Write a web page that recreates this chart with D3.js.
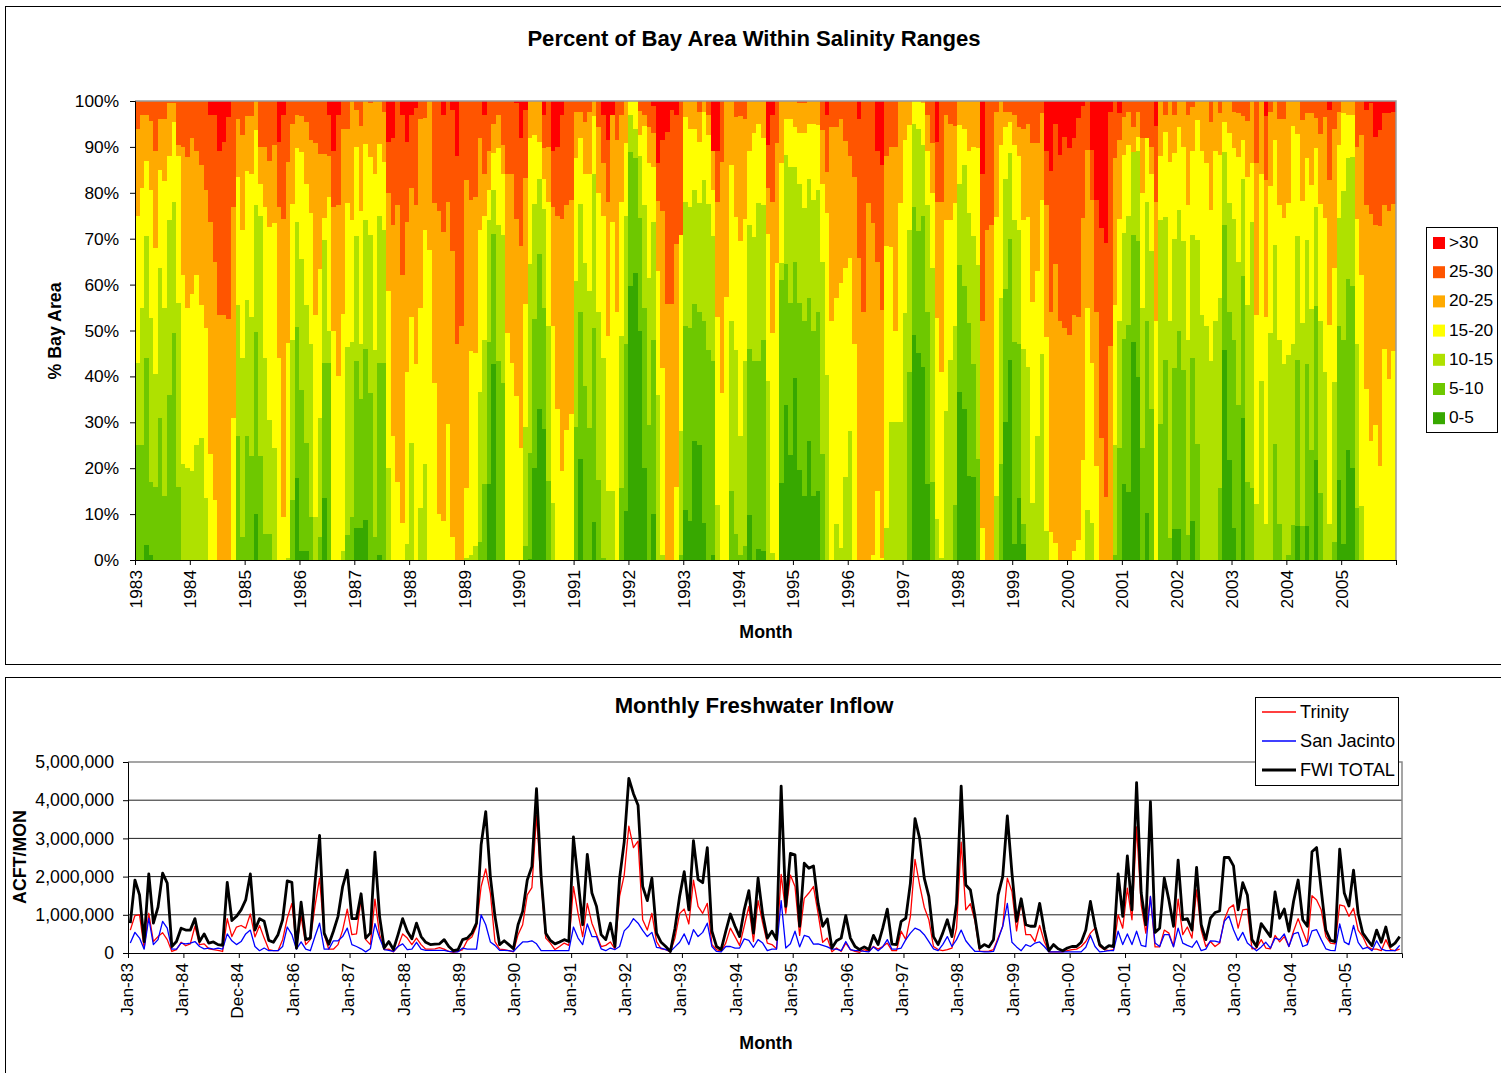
<!DOCTYPE html>
<html>
<head>
<meta charset="utf-8">
<script src="https://cdn.jsdelivr.net/npm/d3@7"></script>
<style>
html, body { margin: 0; padding: 0; background: #fff; overflow: hidden; }
svg { display: block; font-family: "Liberation Sans", Arial, sans-serif; }
.title { font-size: 22.1px; font-weight: bold; }
.axis-title { font-size: 17.8px; font-weight: bold; }
.axis text, .legend text { font-size: 17.3px; fill: #000; }
.inflow-axis text { font-size: 17.7px; }
.legend.inflow text { font-size: 18.2px; }
</style>
</head>
<body>
<script>
const chartWidth = 1501
const chartHeight = 1073

// top chart, cumulative percent of bay area at or below each salinity limit
const le5 = [
    0,0,3.3,1,0,0,0,0,0,0,0,0,
    0,0,0,0,0,0,0,0,0,0,0,0,
    0,0,10,0,0,0,0,0,0,0,0,17.8,
    2,2,0,0,0,13.6,0,0,0,0,0,0,
    7,7,8.8,0,0,1,0,0,0,0,0,0,
    0,0,0,0,0,0,0,0,0,0,0,0,
    0,0,0,0,0,16.5,42.7,0,0,0,0,0,
    0,0,0.3,20,32.8,28.6,0,0,0,0,0,0,
    0,22,0,0,8.3,0,0,0,0,0,0,10.7,
    59.8,62.5,50,20,0,10,0,0,0,0,0,0,
    11,8.5,26,25,8,0,1,0,0,0,0,0,
    0,0,9.8,0,2.3,2,0,0,0,16.8,33.7,22.8,
    39.7,19.7,14,26,14,15,0,0,0,0,0,0,
    0,0,0,0,0,0,0,0,0,0,0,0,
    0,0,49,45,42,16.6,0,0,0,0,0,0,
    36.7,33,18.3,18,0,0,0,0,0,0,30,43.6,
    3.4,13.4,3.4,0,0,0,0,0,0,0,0,0,
    0,0,0,0,0,0,0,0,0,0,0,0,
    16.5,14.9,47.6,39.8,0,10.3,0,0,0,0,0,6.7,
    6.7,0,0,8.6,0,0,0,0,0,0,45.8,21.7,
    7,0,31,0,0,0,0,0,0,0,0,0,
    0,0,7.4,0,7.4,0,21.7,0,0,0,0,17.5,
    3.4,24,20,0,0,0,0,0,0,0,0,0
]
const le10 = [
    25,25,44,17,16,31,14,36,49.5,16,0,0,
    0,0,0,0,0,0,0,0,0,0,27,5,
    27,22.6,49.7,22.6,5.7,5.7,0,0,0,0,13,50.7,
    37,25.5,9.4,0,5,43,43,0,0,0,5.4,9.4,
    43.4,35,46,36.4,5,43,43,0,0,0,0,0,
    0,0,0,0,0,0,0,0,0,0,0,0,
    0,0,0,4,16.5,47.5,71,43.4,38.6,0,0,0,
    0,3,23.4,52.4,66.6,55,17.3,0,0,0,0,0,
    29,54,38,28.8,50.5,17.5,0.5,0,0,0,15.7,47,
    88.8,87.5,74.5,55,29.4,48,0,0,0,0,0,1,
    51,50.5,55.8,54,52,45.8,43.4,0,0,0,15,5.6,
    1,3,46,43.4,43.4,48,0,0,0,61,64.5,56,
    65,56,52,57,50,54,23,0,0,0,0,0,
    0,0,0,0,0,0,0,0,0,0,0,0,
    0,41,77,71.6,75,54,17,0,0,0,0,12,
    64.3,59.6,51.6,42.6,22,0,0,0,0,21,59,70,
    47.5,47,7.8,0,0,0,0,0,0,0,0,0,
    0,0,0,0,0,0,0,0,0,0,1,24.4,
    48.2,51.3,70.7,69.4,24.3,52,32.8,0,29.6,43.6,4.9,41.8,
    50,41.5,5.4,44,25.3,0,0,0,0,15.7,72.9,54,
    48,33.7,61.8,17,15.6,0,0,0,0,25.2,7.8,0,
    1,7.6,43.6,7.4,42.6,24,55.3,14.6,0,0,4,51,
    48,61.3,59.8,11.4,0,0,0,0,0,0,0,0
]
const le15 = [
    43,55,70.5,52.7,40.5,63.6,55,74,78,56,21,20,
    19.4,25,26.6,13.4,0,0,0,0,0,0,55.6,44,
    56.7,53,77.4,75,44,30.6,24.4,0,0,0.5,48,73.7,
    65.6,55.6,47,9.4,31,69.8,50,0,0,2,46.5,47.6,
    70.5,47,74,70.7,45.8,75,72,20,0,0,0,3.4,
    25.5,0,11.4,21,0,0,0,0,0,0,0,0,
    0.5,1,3,36.6,48,74,80.6,72.9,70.8,0,0,0,
    0,29,64.5,77.5,83,76.4,51,12.5,0,0,0,0,
    60.8,77.5,64.8,58.7,84,54,44,15,15,0,48.7,75,
    97,94,88,77.4,61.4,73.7,36,1,0,0,0,28,
    78,76.8,80.6,77.7,82.8,77.5,70.5,12,0,0,52,45.8,
    27,43.4,72.9,70.3,77.7,77.4,39,1.6,0,64.7,88.3,85.7,
    85.7,82,76.6,83,78.4,80.6,65,40.4,0,7.8,2.7,18,
    28,0,0,0,0,0,0,0,7,30,30,30,
    53.8,72,95,94,90.4,77.4,63.6,9,0.5,32.4,43.6,51,
    82,86,75.6,70.5,64.3,0,0,0,14,57,83,88.6,
    74,72,46,42,12.5,27,44.8,6.3,0,0,0,0,
    0,0,0,0,11,8,0,0,0,0,25,52,
    71.2,75,88.8,89,55,78,67.4,0,74,74.8,52,70,
    76.3,69.5,48,70.7,69.8,53.4,51,43.3,52,57,88.8,77.7,
    74.3,65,83,55.6,73.7,12.3,39,7.8,49.5,68.7,48,42.6,
    44.7,47,70.5,51.6,69.8,54.6,77,52,41,7.9,38.8,74.5,
    80.4,87.5,87.9,47,11.7,0,0,0,0,0,0,0
]
const le20 = [
    75,81,87,80.6,68,85,82.6,88,95.5,88,62,55,
    58,62,55.6,50.5,23,13,0,0,0,31,83.5,72,
    84.8,84,93.7,82,76.8,72.6,73.4,44,9.4,47.3,77.5,89.7,
    88.8,82,75.6,53.4,63.5,74.5,79,50,40,53.6,77.7,74,
    90,76,90.6,87.7,84,90.6,86.7,58.7,27,17,8,41,
    53,42.6,55,72,67.6,38.6,10,8.5,29.7,5,0,0,
    15.6,45.6,45,72,75,80.6,88.6,89.7,84,49.5,43,35.7,
    24.4,55.8,92,92.5,91,83,78,51,33,19.4,28.4,31.8,
    87.5,92,84,84,96.8,80,75,48.7,73.6,54,78,90.8,
    100,100,92.6,94.5,86.4,85.7,63,41.8,0,0,16,70.7,
    96.6,94,94,91,97.7,92.7,80.6,53,36.4,57.4,86,74.8,
    69.5,74.4,89,93,95,92,71,49.5,64.7,86.6,96,96,
    94.4,93,93,95,95,94.8,82,75.6,52,57,60.3,63.7,
    65.8,47,0,0,0,1,15,0.5,68.5,68.3,50,77.7,
    91.5,94.8,100,100,99.5,89,80,52.8,41,74,74,77.7,
    94.8,94,89,90,89.7,7,0,0,74.8,90.4,94.4,95.5,
    90.4,88,74,74.8,56.3,62.9,78.5,48.5,6,3.8,0,0,
    0,2,4.3,21.7,54.9,43,20.4,0,0,0,55.6,74.3,
    88.3,90.4,88.8,92.2,80,92,84,52,88,93.3,86.8,88.6,
    94.4,90,77.4,89,95.9,89,86.4,76.3,89,88.3,95.4,93,
    89.7,87.7,91.5,83.5,86.4,53.4,84,53,81.4,91.5,77.4,74.6,
    77.7,94.6,92.8,78.2,87.5,81.6,89.7,77.5,74.6,51.3,63.6,90.4,
    97.3,97,97,74.3,62,37.3,25.9,29.5,20.4,46,39.5,45.6
]
const le25 = [
    94,97,97,95.6,89,96,96,99.5,99.5,90.5,90,87.7,
    92,89,86,80.6,73.7,65,53.4,53.4,52.6,76.8,96,92.7,
    96.8,96.8,99.9,90,90,87,90.5,76.8,74.3,86.8,95,97,
    96.8,95.5,91.5,90.8,88.4,88.4,88,77,77.4,94,94,100,
    98,94.6,100,99.5,100,100,97.7,80,73,77.4,62,73.7,
    81,77.4,96,96.4,100,77.7,76,71.4,78,67.4,47,51,
    82.8,78.5,79,92,84,89,95,97,90.4,84,84,74.3,
    68.5,83.3,100,100,100,89.7,90,77,75,74.3,77.4,78.5,
    97.7,97.7,95.5,97.7,100,94.4,86.4,78,97,91.5,97,100,
    100,100,97.8,97,94.4,93,78.2,76,55.8,55.8,68.8,70.8,
    100,100,100,97.7,100,97,89,78,86.8,100,100,96.6,
    96.8,96,100,100,100,100,81,78,90.8,100,100,100,
    100,99.5,99.6,100,100,100,93.7,84.6,94.4,94.4,96,91.3,
    88,83.5,65.8,54,77.7,73.4,65,54.5,88,90,90,100,
    100,100,100,100,100,97,90.8,78,78,97,95,94.6,
    100,100,100,100,100,52,72,73,97.7,100,97.7,97.7,
    97,94.4,94,95,90.8,90.8,97.3,77.4,54,64.5,52,50.5,
    49,53.4,52.9,74.5,89.3,78.5,54,26.6,13.7,46.6,87.5,91.5,
    96.6,97.7,94.4,97.7,92,92,90,78,100,97,100,97,
    100,100,97,98.8,100,100,100,95.5,100,97.3,100,100,
    97.7,97.3,96.8,95.6,100,86.4,100,82.7,97.7,100,96,96,
    100,100,100,95.9,97.3,97.3,96.2,92.8,96.6,82.8,94,97.7,
    100,100,100,90,92.7,77.4,75.3,72.9,72.7,77.4,76,77.5
]
const le30 = [
    100,100,100,100,100,100,100,100,100,100,100,100,
    100,100,100,100,97,97,89,91,96.5,100,100,100,
    100,100,100,100,100,100,100,91,97,100,100,100,
    100,100,100,100,100,100,97,89,97,100,100,100,
    100,100,100,100,100,100,100,91,92,100,97,91,
    97,98.5,100,100,100,100,100,97,100,98,88,100,
    100,100,100,100,97,100,100,100,100,100,100,99.5,
    92,98,100,100,100,97,100,89,90,97,100,100,
    100,100,100,100,100,100,97,91.5,97,100,100,100,
    100,100,100,100,100,99,86.4,91.5,93.3,98,97,100,
    100,100,100,100,100,100,89,89,100,100,100,100,
    100,100,100,100,100,100,90.4,97,100,100,100,100,
    100,100,100,100,100,100,100,97,100,100,100,100,
    100,100,96,100,100,100,89,86,100,100,100,100,
    100,100,100,100,100,100,100,91,100,100,100,100,
    100,100,100,100,100,84,100,100,100,100,100,100,
    100,100,100,100,100,100,100,89,84.8,95,88.3,92.2,
    89.8,92,96.4,99,100,89.3,78.5,72.3,69,97.7,100,97.3,
    100,100,100,100,100,100,100,94.6,100,100,100,100,
    100,100,100,100,100,100,100,100,100,100,100,100,
    100,100,100,100,100,100,100,96.8,100,100,100,100,
    100,100,100,100,100,100,100,100,100,98,100,100,
    100,100,100,100,100,98,99.5,92.2,93.7,97.3,97.3,97.7
]

const salinityNames = [">30", "25-30", "20-25", "15-20", "10-15", "5-10", "0-5"]
const salinityColors = ["#ff0000", "#ff5500", "#ffaa00", "#ffff00", "#afe100", "#6ec800", "#37a800"]
const yearLabels = ["1983", "1984", "1985", "1986", "1987", "1988", "1989", "1990", "1991", "1992", "1993", "1994",
    "1995", "1996", "1997", "1998", "1999", "2000", "2001", "2002", "2003", "2004", "2005"]

// bottom chart, monthly inflow in million acre-feet
const trinity = [
    0.6,0.98,1,0.13,1.04,0.3,0.43,0.53,0.35,0.04,0.09,0.28,
    0.19,0.24,0.7,0.22,0.24,0.11,0.09,0.07,0.04,0.9,0.43,0.68,
    0.72,0.65,1.02,0.42,0.72,0.39,0.09,0.06,0.06,0.35,0.91,1.3,
    0.16,0.96,0.22,0.35,1.22,1.96,0.48,0.1,0.1,0.22,0.6,1.15,
    0.48,0.5,1.43,0.35,0.22,1.41,0.48,0.09,0.1,0.03,0.17,0.5,
    0.39,0.22,0.39,0.22,0.1,0.1,0.11,0.14,0.1,0.04,0.02,0.04,
    0.09,0.33,0.42,0.7,1.74,2.2,1.57,0.3,0.1,0.09,0.06,0.03,
    0.48,0.74,1.52,1.71,3.6,1.83,0.39,0.26,0.09,0.17,0.26,0.2,
    1.74,1.04,0.43,1.3,0.78,0.48,0.17,0.2,0.29,0.1,1.48,2.04,
    3.32,2.76,2.93,0.87,0.6,1.04,0.3,0.11,0.09,0.03,0.39,1.03,
    1.15,0.76,1.91,1.22,1.04,1.3,0.22,0.09,0.04,0.26,0.65,0.43,
    0.2,0.7,1.22,0.3,1.37,0.78,0.26,0.22,0.11,2.06,1.04,2.04,
    1.74,0.46,1.43,1.57,1.74,1.04,0.28,0.39,0.03,0.13,0.04,0.26,
    0.09,0.04,0.02,0.09,0.04,0.17,0.1,0.17,0.26,0.06,0.06,0.57,
    0.35,0.96,2.45,1.78,1.2,0.87,0.17,0.09,0.06,0.09,0.13,0.65,
    2.9,1.13,1.29,0.83,0.04,0.04,0.05,0.09,0.39,0.7,1.96,1.61,
    0.58,1.35,0.48,0.48,0.3,0.72,0.3,0.03,0.03,0.03,0.03,0.06,
    0.09,0.1,0.17,0.3,0.52,0.65,0.17,0.09,0.06,0.09,1,0.65,
    1.7,0.87,3.3,1.26,0.52,1.48,0.16,0.16,0.6,0.52,0.17,1.41,
    0.48,0.68,0.39,1.65,0.6,0.17,0.3,0.17,0.26,0.87,1.17,1.26,
    0.65,1.13,1.15,0.11,0.13,0.35,0.13,0.11,0.46,0.29,0.43,0.17,
    0.57,0.9,0.57,0.26,1.5,1.39,1.13,0.43,0.26,0.24,1.26,1.23,
    0.96,1.17,0.6,0.43,0.17,0.1,0.1,0.06,0.35,0.09,0.06,0.1
]
const sanJacinto = [
    0.26,0.54,0.39,0.1,0.91,0.22,0.35,0.83,0.65,0.1,0.1,0.26,
    0.24,0.26,0.3,0.17,0.11,0.13,0.1,0.13,0.1,0.5,0.32,0.22,
    0.3,0.5,0.6,0.17,0.06,0.13,0.06,0.06,0.06,0.17,0.68,0.48,
    0.1,0.29,0.1,0.06,0.43,0.78,0.1,0.1,0.32,0.32,0.43,0.65,
    0.22,0.17,0.11,0.03,0.11,0.77,0.39,0.09,0.07,0.04,0.17,0.24,
    0.09,0.1,0.28,0.1,0.07,0.07,0.07,0.07,0.07,0.04,0.03,0.03,
    0.13,0.1,0.1,0.1,1,0.74,0.29,0.2,0.07,0.07,0.06,0.04,
    0.17,0.29,0.29,0.32,0.24,0.06,0.06,0.06,0.06,0.06,0.06,0.06,
    0.68,0.39,0.22,0.76,0.43,0.43,0.11,0.06,0.13,0.09,0.17,0.58,
    0.7,0.9,0.78,0.59,0.43,0.54,0.15,0.13,0.09,0.04,0.16,0.28,
    0.5,0.22,0.61,0.43,0.54,0.78,0.17,0.04,0.03,0.17,0.17,0.13,
    0.13,0.37,0.33,0.15,0.35,0.26,0.06,0.1,0.1,1.37,0.13,0.24,
    0.57,0.16,0.46,0.42,0.23,0.24,0.2,0.16,0.1,0.1,0.06,0.3,
    0.09,0.06,0.06,0.04,0.03,0.16,0.06,0.16,0.35,0.1,0.1,0.13,
    0.35,0.52,0.65,0.6,0.48,0.3,0.11,0.06,0.22,0.43,0.17,0.35,
    0.6,0.32,0.17,0.04,0.04,0.03,0.03,0.04,0.35,0.7,1.3,0.28,
    0.16,0.06,0.22,0.17,0.26,0.29,0.17,0.03,0.03,0.03,0.03,0.03,
    0.03,0.03,0.03,0.15,0.46,0.17,0.03,0.04,0.06,0.06,0.57,0.22,
    0.5,0.22,0.57,0.2,0.17,1.48,0.26,0.17,0.48,0.48,0.16,0.65,
    0.26,0.2,0.15,0.32,0.06,0.1,0.32,0.31,0.28,0.83,0.97,0.61,
    0.33,0.54,0.26,0.16,0.06,0.16,0.28,0.13,0.39,0.35,0.5,0.17,
    0.5,0.54,0.17,0.22,0.58,0.61,0.35,0.11,0.07,0.06,0.76,0.29,
    0.22,0.72,0.28,0.11,0.15,0.06,0.32,0.11,0.06,0.06,0.06,0.2
]
const fwiTotal = [
    0.78,1.91,1.52,0.3,2.07,0.78,1.2,2.09,1.83,0.17,0.3,0.65,
    0.6,0.6,0.9,0.3,0.5,0.26,0.29,0.22,0.2,1.85,0.85,0.96,
    1.13,1.39,2.07,0.6,0.9,0.83,0.33,0.28,0.48,0.87,1.89,1.85,
    0.13,1.33,0.35,0.39,1.83,3.08,0.52,0.23,0.57,0.96,1.74,2.17,
    0.9,0.9,1.55,0.39,0.52,2.64,0.96,0.13,0.3,0.09,0.48,0.9,
    0.57,0.37,0.78,0.43,0.28,0.22,0.23,0.24,0.35,0.17,0.06,0.09,
    0.35,0.39,0.52,0.78,2.83,3.7,2,0.96,0.22,0.32,0.22,0.11,
    0.74,1.09,1.91,2.26,4.3,2,0.52,0.33,0.24,0.29,0.35,0.3,
    3.04,1.91,0.74,2.58,1.57,1.22,0.48,0.35,0.78,0.17,1.96,2.91,
    4.57,4.17,3.87,1.74,1.37,1.96,0.52,0.28,0.17,0.04,0.65,1.48,
    2.13,1.13,2.94,1.93,1.84,2.76,0.57,0.17,0.09,0.57,1.02,0.7,
    0.43,1.13,1.63,0.52,1.96,1,0.39,0.57,0.35,4.37,1.22,2.61,
    2.57,0.7,2.35,2.22,2.28,1.3,0.7,0.89,0.13,0.32,0.39,0.98,
    0.39,0.17,0.09,0.16,0.09,0.46,0.22,0.65,1.15,0.23,0.22,0.83,
    0.91,1.83,3.52,3,1.96,1.48,0.43,0.22,0.52,0.87,0.43,1.3,
    4.37,1.78,1.65,0.95,0.13,0.22,0.16,0.35,1.52,2,3.59,2.09,
    0.83,1.42,0.74,0.7,0.7,1.3,0.6,0.06,0.22,0.11,0.06,0.13,
    0.17,0.17,0.28,0.6,1.35,0.7,0.22,0.11,0.19,0.17,2.07,0.96,
    2.54,1.13,4.46,1.57,0.74,3.96,0.54,0.65,1.96,1.39,0.7,2.43,
    0.87,0.9,0.6,2.24,0.74,0.35,0.91,1.06,1.1,2.5,2.5,2.28,
    1.13,1.84,1.52,0.35,0.17,0.77,0.6,0.43,1.6,0.91,1.15,0.57,
    1.35,1.91,0.87,0.7,2.65,2.76,1.65,0.6,0.33,0.3,2.72,1.57,
    1.23,2.17,1.04,0.52,0.35,0.19,0.6,0.28,0.68,0.17,0.26,0.43
]

const monthLabels = ["Jan-83", "Jan-84", "Dec-84", "Jan-86", "Jan-87", "Jan-88", "Jan-89", "Jan-90", "Jan-91", "Jan-92",
    "Jan-93", "Jan-94", "Jan-95", "Jan-96", "Jan-97", "Jan-98", "Jan-99", "Jan-00", "Jan-01", "Jan-02", "Jan-03", "Jan-04", "Jan-05"]
const inflowTicks = [0, 1, 2, 3, 4, 5]
const percentTicks = [0, 10, 20, 30, 40, 50, 60, 70, 80, 90, 100]

const months = le5.length

const svg = d3.select("body")
    .append("svg")
    .attr("width", chartWidth)
    .attr("height", chartHeight)

// outer chart frames, they run off the right side of the page

svg.append("rect")
    .attr("x", 5.5).attr("y", 6.5)
    .attr("width", 1600).attr("height", 658)
    .attr("fill", "#fff").attr("stroke", "#000")

svg.append("rect")
    .attr("x", 5.5).attr("y", 677.5)
    .attr("width", 1600).attr("height", 500)
    .attr("fill", "#fff").attr("stroke", "#000")

// top chart

const sx = d3.scaleLinear().domain([0, months]).range([135, 1396])
const sy = d3.scaleLinear().domain([0, 100]).range([560, 101])

const salinityChart = svg.append("g")

salinityChart.append("rect")
    .attr("x", sx(0)).attr("y", sy(100))
    .attr("width", sx(months) - sx(0)).attr("height", sy(0) - sy(100))
    .attr("fill", salinityColors[0])

const stepArea = d3.area()
    .curve(d3.curveStepAfter)
    .x((_, i) => sx(i))
    .y0(sy(0))
    .y1(_ => sy(_))

// painted from the top band down, each one covers the ones below it
salinityChart.selectAll(".band")
    .data([le30, le25, le20, le15, le10, le5])
    .enter().append("path")
    .attr("class", "band")
    .attr("d", _ => stepArea(_.concat(_[months - 1])))
    .attr("fill", (_, i) => salinityColors[i + 1])
    .attr("shape-rendering", "crispEdges")

salinityChart.append("path")
    .attr("d", `M${sx(0)},${sy(100)}H${sx(months)}V${sy(0)}`)
    .attr("fill", "none")
    .attr("stroke", "#999")
    .attr("stroke-width", 1.5)

salinityChart.append("g")
    .attr("class", "axis")
    .attr("transform", `translate(${sx(0)},0)`)
    .call(d3.axisLeft(sy).tickValues(percentTicks).tickFormat(_ => _ + "%").tickSize(5).tickPadding(11))

const salinityAxis = salinityChart.append("g")
    .attr("class", "axis")
    .attr("transform", `translate(0,${sy(0)})`)
    .call(d3.axisBottom(sx)
        .tickValues(yearLabels.map((_, i) => i * 12).concat(months))
        .tickFormat(_ => yearLabels[_ / 12] || "")
        .tickSize(5))

salinityAxis.selectAll("text")
    .attr("transform", "rotate(-90)")
    .attr("x", -10).attr("y", 0)
    .attr("dy", "0.35em")
    .style("text-anchor", "end")

svg.append("text")
    .attr("class", "title")
    .attr("x", 754).attr("y", 46)
    .attr("text-anchor", "middle")
    .text("Percent of Bay Area Within Salinity Ranges")

svg.append("text")
    .attr("class", "axis-title")
    .attr("transform", "translate(61,331) rotate(-90)")
    .attr("text-anchor", "middle")
    .text("% Bay Area")

svg.append("text")
    .attr("class", "axis-title")
    .attr("x", 766).attr("y", 638)
    .attr("text-anchor", "middle")
    .text("Month")

// top legend

const salinityLegend = svg.append("g").attr("class", "legend")

salinityLegend.append("rect")
    .attr("x", 1426.5).attr("y", 227.5)
    .attr("width", 71).attr("height", 205)
    .attr("fill", "#fff").attr("stroke", "#000")

const salinityRow = salinityLegend.selectAll(".row")
    .data(salinityNames)
    .enter().append("g")
    .attr("class", "row")
    .attr("transform", (_, i) => `translate(1433,${242 + i * 29.2})`)

salinityRow.append("rect")
    .attr("y", -5).attr("width", 12).attr("height", 12)
    .attr("fill", (_, i) => salinityColors[i])

salinityRow.append("text")
    .attr("x", 16).attr("y", 6)
    .text(_ => _)

// bottom chart

const lx = d3.scaleBand().domain(d3.range(months)).range([128, 1402])
const ly = d3.scaleLinear().domain([0, 5]).range([953, 762])

const inflowChart = svg.append("g")

inflowChart.append("g")
    .selectAll("line")
    .data(inflowTicks.slice(1, 5))
    .enter().append("line")
    .attr("x1", lx.range()[0]).attr("x2", lx.range()[1])
    .attr("y1", _ => ly(_)).attr("y2", _ => ly(_))
    .attr("stroke", "#222")

inflowChart.append("path")
    .attr("d", `M${lx.range()[0]},${ly(5)}H${lx.range()[1]}V${ly(0)}`)
    .attr("fill", "none")
    .attr("stroke", "#888")
    .attr("stroke-width", 1.5)

const inflowLine = d3.line()
    .x((_, i) => lx(i) + lx.bandwidth() / 2)
    .y(_ => ly(_))

inflowChart.selectAll(".series")
    .data([
        {values: trinity, color: "#ff0000", size: 1.3},
        {values: sanJacinto, color: "#0000ff", size: 1.3},
        {values: fwiTotal, color: "#000", size: 2.8}
    ])
    .enter().append("path")
    .attr("class", "series")
    .attr("d", _ => inflowLine(_.values))
    .attr("fill", "none")
    .attr("stroke", _ => _.color)
    .attr("stroke-width", _ => _.size)
    .attr("stroke-linejoin", "round")

inflowChart.append("g")
    .attr("class", "axis inflow-axis")
    .attr("transform", `translate(${lx.range()[0]},0)`)
    .call(d3.axisLeft(ly)
        .tickValues(inflowTicks)
        .tickFormat(_ => d3.format(",")(_ * 1000000))
        .tickSize(5).tickPadding(9))

const tickX = d3.scaleLinear().domain([0, months]).range(lx.range())

const inflowAxis = inflowChart.append("g")
    .attr("class", "axis")
    .attr("transform", `translate(0,${ly(0)})`)
    .call(d3.axisBottom(tickX)
        .tickValues(monthLabels.map((_, i) => i * 12))
        .tickFormat(_ => monthLabels[_ / 12])
        .tickSize(5))

inflowAxis.selectAll("text")
    .attr("transform", "rotate(-90)")
    .attr("x", -10).attr("y", -2)
    .attr("dy", "0.35em")
    .style("text-anchor", "end")

svg.append("text")
    .attr("class", "title")
    .attr("x", 754).attr("y", 713)
    .attr("text-anchor", "middle")
    .text("Monthly Freshwater Inflow")

svg.append("text")
    .attr("class", "axis-title")
    .attr("transform", "translate(26,857) rotate(-90)")
    .attr("text-anchor", "middle")
    .text("ACFT/MON")

svg.append("text")
    .attr("class", "axis-title")
    .attr("x", 766).attr("y", 1049)
    .attr("text-anchor", "middle")
    .text("Month")

// bottom legend

const inflowLegend = svg.append("g").attr("class", "legend inflow")

inflowLegend.append("rect")
    .attr("x", 1255.5).attr("y", 697.5)
    .attr("width", 143).attr("height", 88)
    .attr("fill", "#fff").attr("stroke", "#000")

const inflowRow = inflowLegend.selectAll(".row")
    .data([
        {name: "Trinity", color: "#ff0000", size: 1.3},
        {name: "San Jacinto", color: "#0000ff", size: 1.3},
        {name: "FWI TOTAL", color: "#000", size: 2.8}
    ])
    .enter().append("g")
    .attr("class", "row")
    .attr("transform", (_, i) => `translate(1262,${712 + i * 29})`)

inflowRow.append("line")
    .attr("x1", 0).attr("x2", 34)
    .attr("stroke", _ => _.color)
    .attr("stroke-width", _ => _.size)

inflowRow.append("text")
    .attr("x", 38).attr("y", 5.5)
    .text(_ => _.name)
</script>
</body>
</html>
